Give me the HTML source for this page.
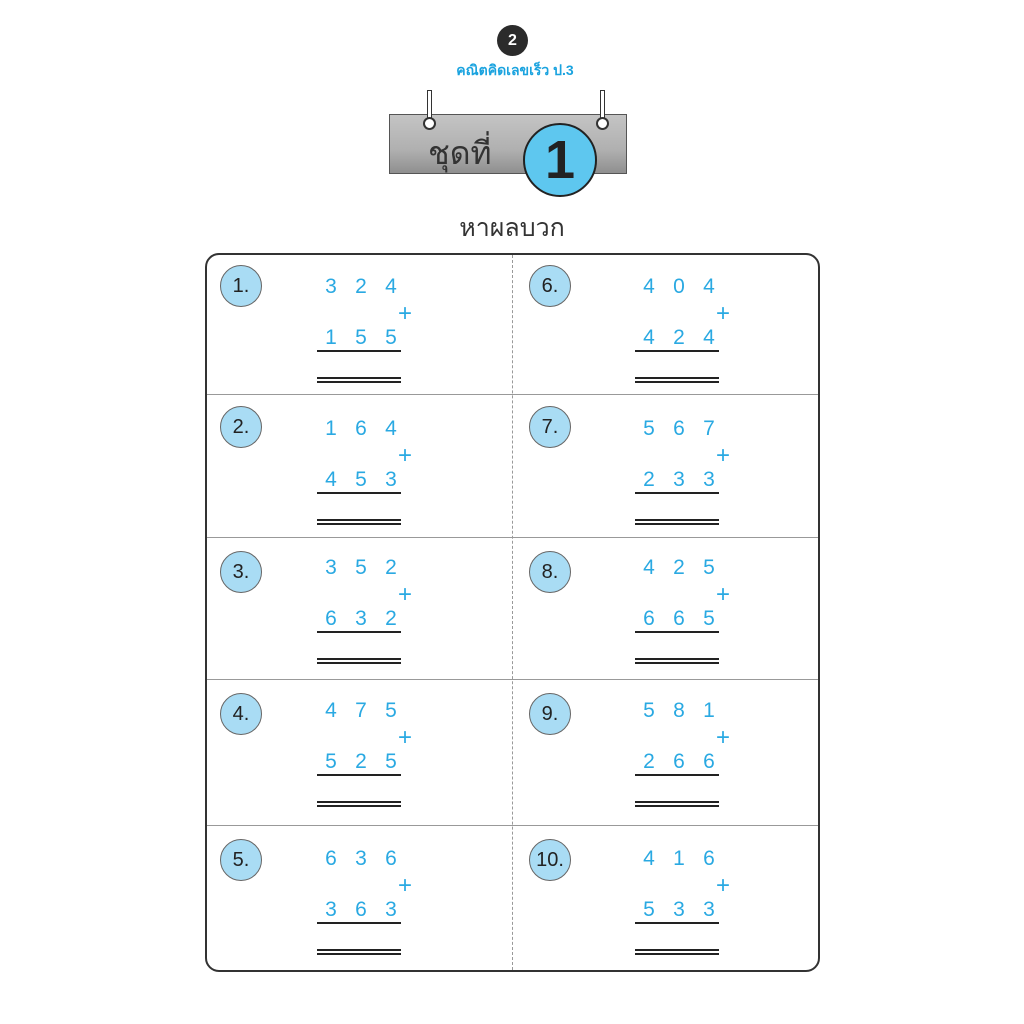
<!DOCTYPE html>
<html><head><meta charset="utf-8"><style>
body{margin:0;width:1024px;height:1024px;background:#fff;position:relative;overflow:hidden;font-family:"Liberation Sans","Noto Sans CJK SC",sans-serif}
.a{position:absolute}
.d{position:absolute;color:#2aa9e2;font-size:21px;line-height:22px;width:20px;text-align:center}
.c{position:absolute;width:42px;height:42px;border-radius:50%;background:#a9dcf4;border:1px solid #666;box-sizing:border-box;font-size:20px;line-height:40px;text-align:center;color:#222}
.l{position:absolute;height:2px;background:#222;width:84px}
</style></head><body>
<div class="a" style="left:497px;top:25px;width:31px;height:31px;border-radius:50%;background:#2b2b2b;color:#fff;font-weight:bold;font-size:16px;line-height:31px;text-align:center">2</div>
<div class="a" style="left:440px;top:60px;width:150px;text-align:center;color:#1aa3df;font-weight:bold;font-size:14px">คณิตคิดเลขเร็ว ป.3</div>
<div class="a" style="left:389px;top:114px;width:238px;height:60px;background:linear-gradient(#c4c4c4,#b0b0b0 60%,#8f8f8f);border:1px solid #555;box-sizing:border-box"></div>
<div class="a" style="left:427px;top:90px;width:5px;height:32px;border:1px solid #333;background:#fff;box-sizing:border-box"></div>
<div class="a" style="left:423px;top:117px;width:13px;height:13px;border-radius:50%;border:2px solid #333;background:#fff;box-sizing:border-box"></div>
<div class="a" style="left:600px;top:90px;width:5px;height:32px;border:1px solid #333;background:#fff;box-sizing:border-box"></div>
<div class="a" style="left:596px;top:117px;width:13px;height:13px;border-radius:50%;border:2px solid #333;background:#fff;box-sizing:border-box"></div>
<div class="a" style="left:428px;top:128px;font-size:32px;color:#333">ชุดที่</div>
<div class="a" style="left:523px;top:123px;width:74px;height:74px;border-radius:50%;background:#5ec7ef;border:2px solid #222;box-sizing:border-box;font-size:54px;line-height:70px;text-align:center;color:#222;font-weight:bold">1</div>
<div class="a" style="left:412px;top:208px;width:200px;text-align:center;font-size:25px;color:#333">หาผลบวก</div>
<div class="a" style="left:205px;top:253px;width:615px;height:719px;border:2px solid #333;border-radius:14px;box-sizing:border-box"></div>
<div class="a" style="left:512px;top:255px;height:715px;border-left:1px dashed #999"></div>
<div class="a" style="left:207px;top:394px;width:611px;height:1px;background:#999"></div>
<div class="a" style="left:207px;top:537px;width:611px;height:1px;background:#999"></div>
<div class="a" style="left:207px;top:679px;width:611px;height:1px;background:#999"></div>
<div class="a" style="left:207px;top:825px;width:611px;height:1px;background:#999"></div>
<div id="g"></div>
<script>
var rows=[286,427,572,714,860],tops=[287,429,568,711,859];
var data=[["324","155","404","424"],["164","453","567","233"],["352","632","425","665"],["475","525","581","266"],["636","363","416","533"]];
var h="";
for(var r=0;r<5;r++){
 for(var c=0;c<2;c++){
  var cx=c?550:241,dx=c?649:331,n=c?r+6:r+1,t=tops[r];
  h+='<div class="c" style="left:'+(cx-21)+'px;top:'+(rows[r]-21)+'px">'+n+'.</div>';
  var a=data[r][c*2],b=data[r][c*2+1];
  for(var i=0;i<3;i++){
   h+='<div class="d" style="left:'+(dx+i*30-10)+'px;top:'+(t-11)+'px">'+a[i]+'</div>';
   h+='<div class="d" style="left:'+(dx+i*30-10)+'px;top:'+(t+40)+'px">'+b[i]+'</div>';
  }
  h+='<div class="d" style="left:'+(dx+64)+'px;top:'+(t+16)+'px;font-size:24px">+</div>';
  h+='<div class="l" style="left:'+(dx-14)+'px;top:'+(t+63)+'px"></div>';
  h+='<div class="l" style="left:'+(dx-14)+'px;top:'+(t+90)+'px"></div>';
  h+='<div class="l" style="left:'+(dx-14)+'px;top:'+(t+94)+'px"></div>';
 }
}
document.getElementById("g").innerHTML=h;
</script>
</body></html>
